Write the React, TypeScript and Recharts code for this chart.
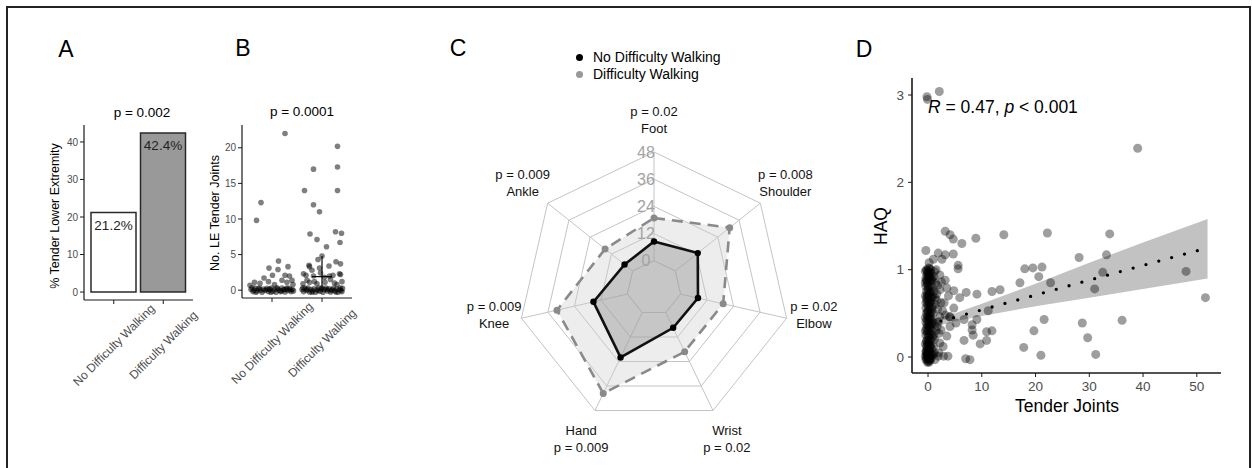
import React from 'react';
import {
  BarChart, Bar, Cell, LabelList, XAxis, YAxis, ComposedChart, Scatter, ReferenceLine,
  RadarChart, Radar, PolarGrid, PolarAngleAxis, PolarRadiusAxis, Area, Line,
} from 'recharts';

const FONT = '"Liberation Sans", Arial, Helvetica, sans-serif';
const AXIS_TEXT = '#4d4d4d';
const AXIS_LINE = '#1a1a1a';

// ---------------- Panel A ----------------
const walkingGroups = ['No Difficulty Walking', 'Difficulty Walking'];
const pctTenderLE = [21.2, 42.4];
const pctLabels = ['21.2%', '42.4%'];
const barFills = ['#ffffff', '#999999'];
const aYTicks = [0, 10, 20, 30, 40];

// ---------------- Panel B ----------------
const bGroupPos = [1, 2];
const bYTicks = [0, 5, 10, 15, 20];
const bNoDiff: number[][] = [
  [0.58, 0.1], [0.62, -0.2], [0.66, 0.3], [0.7, -0.1], [0.73, 0.2], [0.77, 0], [0.8, -0.3], [0.83, 0.15],
  [0.86, -0.05], [0.9, 0.25], [0.93, -0.2], [0.96, 0.05], [0.99, 0.3], [1.02, -0.15], [1.05, 0.1], [1.08, -0.3],
  [1.11, 0.2], [1.14, 0], [1.17, -0.2], [1.2, 0.3], [1.23, 0.05], [1.26, -0.25], [1.29, 0.15], [1.32, -0.05],
  [1.35, 0.25], [1.38, -0.2], [1.41, 0.1], [1.43, -0.1], [0.6, 0.35], [0.68, -0.3], [0.75, 0.25], [0.88, 0.05],
  [0.98, -0.3], [1.1, 0.35], [1.19, -0.1], [1.3, 0.3], [1.37, 0.05], [0.64, 0], [0.95, 0.15], [1.25, 0.1],
  [0.69, 9.8], [0.78, 12.3], [1.26, 22.0], [1.13, 4.1], [1.32, 3.3], [0.94, 3.1], [1.12, 2.9], [1.01, 2.1],
  [0.84, 1.7], [1.26, 2.1], [1.4, 1.4], [0.76, 0.95], [0.56, 0.7], [1.2, 1.4], [0.93, 1.2], [1.35, 2.0],
  [1.05, 0.8], [1.3, 1.1], [0.65, 1.1], [1.42, 0.8],
];
const bDiff: number[][] = [
  [1.6, 0.1], [1.63, -0.2], [1.66, 0.25], [1.69, -0.05], [1.72, 0.3], [1.75, -0.25], [1.78, 0.1], [1.81, -0.1],
  [1.84, 0.2], [1.87, -0.3], [1.9, 0.05], [1.93, 0.3], [1.96, -0.15], [1.99, 0.15], [2.02, -0.3], [2.05, 0.05],
  [2.08, 0.3], [2.11, -0.1], [2.14, 0.2], [2.17, -0.25], [2.2, 0.05], [2.23, 0.3], [2.26, -0.1], [2.29, 0.15],
  [2.32, -0.3], [2.35, 0.1], [2.38, -0.05], [2.41, 0.25], [1.62, 0.35], [1.7, 0.1], [1.8, -0.3], [1.92, -0.05],
  [2.0, 0.35], [2.1, 0.1], [2.19, -0.05], [2.28, -0.25], [2.37, 0.3], [2.4, -0.2],
  [1.62, 0.9], [1.75, 1.1], [1.9, 0.9], [2.06, 1.1], [2.17, 1.5], [1.7, 1.4], [2.3, 0.8], [2.4, 1.2], [1.85, 1.2], [2.25, 1.0],
  [1.63, 2.3], [1.83, 2.0], [2.15, 2.0], [2.35, 2.3], [2.37, 2.2], [1.68, 2.1], [1.97, 2.4], [2.05, 1.8], [2.22, 2.1],
  [1.75, 3.3], [1.74, 3.5], [2.14, 3.4], [1.8, 2.8], [1.95, 3.1],
  [1.65, 14.0], [1.83, 17.0], [1.83, 12.0], [1.95, 11.0], [1.76, 7.9], [1.9, 7.1], [2.09, 6.1], [2.0, 4.8],
  [1.92, 4.3], [2.31, 20.2], [2.31, 17.3], [2.31, 14.0], [2.27, 8.2], [2.39, 8.0], [2.36, 6.7], [2.28, 4.0], [2.37, 3.7],
];
const bSummaryX = [2];
const bSummaryLow = [0];
const bSummaryMid = [1.9];
const bSummaryHigh = [4.8];

// ---------------- Panel C ----------------
const jointAxes = ['Foot', 'Shoulder', 'Elbow', 'Wrist', 'Hand', 'Knee', 'Ankle'];
const jointP = ['p = 0.02', 'p = 0.008', 'p = 0.02', 'p = 0.02', 'p = 0.009', 'p = 0.009', 'p = 0.009'];
const noDiffPct = [8.5, 12.7, 7.9, 7.5, 22.0, 15.4, 4.6];
const diffPct = [18.9, 30.7, 19.3, 19.2, 39.6, 31.9, 15.6];
const radarBase = [0, 0, 0, 0, 0, 0, 0];
const radarTicks = [-12, 0, 12, 24, 36, 48];
const legendNames = ['No Difficulty Walking', 'Difficulty Walking'];

// ---------------- Panel D ----------------
const dTicksX = [0, 10, 20, 30, 40, 50];
const dTicksY = [0, 1, 2, 3];
const fitX = [0, 5, 10, 20, 30, 40, 52];
const fitY = [0.37, 0.455, 0.54, 0.71, 0.88, 1.05, 1.25];
const fitLow = [0.32, 0.41, 0.47, 0.58, 0.68, 0.78, 0.9];
const fitHigh = [0.42, 0.5, 0.61, 0.84, 1.08, 1.31, 1.58];
const dCluster: number[][] = [
  [-0.4, -0.03], [-0.2, 0.02], [0, -0.05], [0.2, 0.01], [0.4, -0.02], [0.6, 0.03], [-0.3, 0.04], [-0.1, -0.06],
  [0.1, 0.05], [0.3, -0.04], [0.5, 0.0], [-0.5, 0.01], [0.0, 0.03], [0.2, -0.06], [-0.2, -0.02], [0.4, 0.05],
  [-0.4, 0.06], [0.1, -0.03],
  [-0.3, 0.12], [0, 0.14], [0.3, 0.11], [0.5, 0.13], [-0.1, 0.1], [0.2, 0.15],
  [-0.4, 0.25], [-0.1, 0.27], [0.2, 0.24], [0.5, 0.26], [0, 0.22], [0.3, 0.28],
  [-0.2, 0.37], [0.1, 0.39], [0.4, 0.36], [-0.4, 0.4], [0, 0.35], [0.6, 0.38],
  [-0.3, 0.5], [0, 0.52], [0.3, 0.48], [0.6, 0.51], [-0.1, 0.47], [0.2, 0.54],
  [-0.4, 0.62], [-0.1, 0.64], [0.2, 0.61], [0.5, 0.63], [0.1, 0.66],
  [-0.3, 0.75], [0, 0.77], [0.3, 0.73], [0.6, 0.76], [-0.1, 0.72],
  [-0.2, 0.87], [0.1, 0.89], [0.4, 0.86], [0.6, 0.88], [-0.4, 0.9],
  [-0.3, 1.0], [0, 0.98], [0.3, 1.01], [-0.1, 0.96], [0.2, 0.95], [0.5, 1.0], [0.2, 1.08],
  [-0.3, 0.06], [0.3, 0.08], [0.1, 0.18], [-0.2, 0.19], [0.4, 0.2], [-0.5, 0.3], [0.1, 0.31], [0.5, 0.33],
  [-0.2, 0.43], [0.3, 0.42], [0.0, 0.44], [-0.4, 0.56], [0.1, 0.57], [0.4, 0.58], [-0.2, 0.69], [0.2, 0.7],
  [0.5, 0.68], [-0.4, 0.81], [0.0, 0.82], [0.3, 0.8], [-0.2, 0.93], [0.2, 0.92], [0.4, 0.97], [-0.5, 0.98],
  [0.7, 0.1], [0.8, 0.3], [0.7, 0.55], [0.8, 0.8], [0.6, 0.95], [-0.3, 0.18], [0.0, 0.08], [0.2, 0.35],
  [-0.1, 0.6], [0.3, 0.63], [0.0, 0.7], [-0.3, 0.88], [0.1, 0.93], [0.3, 0.9], [-0.2, 0.3], [0.5, 0.45],
  [0.1, -0.01], [-0.1, 0.02], [0.3, 0.02], [-0.3, -0.01], [0.5, -0.03], [0.0, 0.0], [0.2, 0.06], [-0.2, 0.08],
  [-0.5, 0.15], [0.6, 0.2], [-0.5, 0.45], [0.7, 0.42], [-0.5, 0.7], [0.7, 0.68], [-0.5, 0.85], [0.7, 0.9],
  [-0.1, 0.15], [0.4, 0.12], [-0.3, 0.33], [0.2, 0.45], [-0.1, 0.52], [0.4, 0.5], [-0.3, 0.66], [0.1, 0.78],
  [-0.1, 0.84], [0.4, 0.74], [-0.2, 0.99], [0.1, 1.02], [0.8, 0.02], [0.8, 0.58], [0.9, 0.22], [0.9, 0.7],
];
const dLow: number[][] = [
  [2.2, 0.94], [3.2, 0.88], [2.2, 0.77], [3.5, 0.79], [1.6, 0.65], [2.4, 0.62], [1.0, 0.5], [2.2, 0.46],
  [3.2, 0.48], [4.1, 0.46], [1.7, 0.35], [2.4, 0.31], [1.2, 0.2], [2.2, 0.16], [1.2, 0.05], [1.9, 0.01],
  [0.9, 0.88], [1.1, 0.75], [1.0, 0.25], [1.4, 0.6], [3.0, 0.62], [2.8, 0.12], [1.5, 1.0], [1.0, 1.12],
  [2.6, 1.12], [3.8, 0.7], [0.9, 0.4], [1.3, -0.03], [1.1, 0.92], [1.8, 0.82], [1.3, 0.38], [2.0, 0.27],
  [1.0, 0.12], [1.6, 0.72], [2.7, 0.53], [1.2, 0.98], [1.4, 0.85], [1.8, 0.55], [1.5, 0.3], [2.0, 0.05],
  [1.3, 0.68], [1.9, 0.4], [2.5, 0.86], [1.1, 0.03],
];
const dSpread: number[][] = [
  [3.2, 1.44], [4.1, 1.4], [4.7, 1.35], [6.3, 1.3], [8.9, 1.36], [14.1, 1.4], [22.2, 1.42], [33.8, 1.41],
  [-0.4, 1.22], [1.9, 1.19], [3.2, 1.17], [4.7, 1.18], [5.6, 1.05], [5.6, 1.01],
  [28.1, 1.14], [33.2, 1.17], [18.0, 1.01], [19.5, 1.02], [21.2, 1.03], [20.6, 0.92], [17.1, 0.85], [22.8, 0.85],
  [32.5, 0.97], [31.0, 0.78], [48.0, 0.98], [51.6, 0.68],
  [4.8, 0.76], [5.9, 0.68], [7.1, 0.74], [9.1, 0.72], [11.9, 0.75], [13.4, 0.77],
  [6.7, 0.43], [9.1, 0.43], [8.2, 0.37], [8.2, 0.31], [8.4, 0.25], [11.2, 0.53], [10.9, 0.29], [11.9, 0.3],
  [10.9, 0.19], [9.7, 0.15], [6.7, 0.19], [3.5, 0.24], [4.1, 0.35], [3.7, 0.01], [2.9, 0.01], [7.0, -0.02], [7.8, -0.03],
  [21.6, 0.43], [19.7, 0.3], [17.8, 0.11], [21.0, 0.02], [28.7, 0.39], [29.7, 0.22], [31.2, 0.03], [36.1, 0.42],
  [4.8, 0.56], [4.0, 0.46], [5.2, 0.39],
  [-0.2, 2.98], [-0.1, 2.95], [2.1, 3.04], [39.0, 2.39],
];

// ---------------- helpers ----------------
const toPts = (arr: number[][]) => arr.map(([x, y]) => ({ x, y }));

const Txt = ({ x, y, size, rotate = 0, anchor = 'middle', color = '#000', children }: any) => {
  const tx = anchor === 'middle' ? '-50%' : anchor === 'start' ? '0%' : '-100%';
  return (
    <div
      style={{
        position: 'absolute', left: x, top: y,
        transform: `translate(${tx}, -50%) rotate(${rotate}deg)`,
        transformOrigin: anchor === 'start' ? '0 50%' : '50% 50%',
        fontSize: size, lineHeight: 1, whiteSpace: 'nowrap', color, fontFamily: FONT,
      }}
    >
      {children}
    </div>
  );
};

const makeCatTick = (names: string[]) => (props: any) => {
  const { x, y, payload } = props;
  const v = payload.value;
  const label = typeof v === 'number' ? names[v - 1] : v;
  return (
    <text
      x={0} y={0}
      transform={`translate(${x},${y + 39}) rotate(-45)`}
      textAnchor="middle" dy="0.35em" fontSize={12} fill={AXIS_TEXT} fontFamily={FONT}
    >
      {label}
    </text>
  );
};

const yTickStyle = { fontSize: 10, fill: AXIS_TEXT, fontFamily: FONT };

const bDot = (p: any) => <circle cx={p.cx} cy={p.cy} r={2.8} fill="#000" fillOpacity={0.5} />;
const dDot = (p: any) => <circle cx={p.cx} cy={p.cy} r={4.5} fill="#000" fillOpacity={0.38} />;

const RADAR_CX = 234;
const RADAR_CY = 288;
const RADAR_R = 136;

const renderJointLabel = (props: any) => {
  const { payload } = props;
  const i = jointAxes.indexOf(payload.value);
  const a = (payload.coordinate * Math.PI) / 180;
  const side = Math.abs(Math.sin(a)) < 0.3;
  const r = side ? 164 : 168;
  const lx = RADAR_CX + r * Math.cos(a);
  const ly = RADAR_CY - r * Math.sin(a) + (side ? -10 : 0);
  const lower = Math.sin(a) < -0.5;
  const lines = lower ? [jointAxes[i], jointP[i]] : [jointP[i], jointAxes[i]];
  return (
    <text textAnchor="middle" fontSize={13} fill="#111" fontFamily={FONT}>
      <tspan x={lx} y={ly - 8.5} dy="0.35em">{lines[0]}</tspan>
      <tspan x={lx} y={ly + 8.5} dy="0.35em">{lines[1]}</tspan>
    </text>
  );
};

const renderRadiusTick = (props: any) => {
  const { x, y, payload } = props;
  if (payload.value < 0) return <g />;
  return (
    <text x={x - 8} y={y} dy="0.35em" textAnchor="middle" fontSize={16} fill="#a3a3a3" fontFamily={FONT}>
      {payload.value}
    </text>
  );
};

export default function App() {
  const aData = walkingGroups.map((g, i) => ({ group: g, pct: pctTenderLE[i], label: pctLabels[i], fill: barFills[i] }));
  const radarData = jointAxes.map((axis, i) => ({ axis, noDiff: noDiffPct[i], diff: diffPct[i], base: radarBase[i] }));
  const dRibbon = fitX.map((x, i) => ({ x, fit: fitY[i], band: [fitLow[i], fitHigh[i]] }));
  const dAll = toPts([...dCluster, ...dLow, ...dSpread]);

  return (
    <div style={{ position: 'absolute', left: 0, top: 0, width: 1252, height: 468, background: '#fff', overflow: 'hidden', fontFamily: FONT }}>
      {/* frame */}
      <div style={{ position: 'absolute', left: 6, top: 6, width: 1245, height: 470, boxSizing: 'border-box', borderLeft: '2px solid #222', borderTop: '2px solid #222', borderRight: '2px solid #222' }} />

      {/* Panel A */}
      <div style={{ position: 'absolute', left: 0, top: 0 }}>
        <BarChart width={200} height={468} data={aData} margin={{ top: 125, right: 7, bottom: 138, left: 54 }}>
          <XAxis
            dataKey="group" type="category" interval={0} padding={{ left: 5, right: 5 }} height={30}
            axisLine={{ stroke: AXIS_LINE, strokeWidth: 1.2 }} tickLine={{ stroke: AXIS_LINE }} tickSize={4} tickMargin={2}
            tick={makeCatTick(walkingGroups)}
          />
          <YAxis
            type="number" domain={[-2.12, 44.52]} ticks={aYTicks} allowDataOverflow width={30}
            axisLine={{ stroke: AXIS_LINE, strokeWidth: 1.2 }} tickLine={{ stroke: AXIS_LINE }} tickSize={4} tickMargin={2}
            tick={yTickStyle}
          />
          <Bar dataKey="pct" barSize={45} stroke="#2a2a2a" strokeWidth={1.5} isAnimationActive={false}>
            {aData.map((d, i) => <Cell key={i} fill={d.fill} />)}
            <LabelList
              dataKey="label"
              content={(p: any) => (
                <text x={p.x + p.width / 2} y={p.y + 17} textAnchor="middle" fontSize={13.5} fill="#222" fontFamily={FONT}>
                  {p.value}
                </text>
              )}
            />
          </Bar>
        </BarChart>
      </div>

      {/* Panel B */}
      <div style={{ position: 'absolute', left: 200, top: 0 }}>
        <ComposedChart width={170} height={468} margin={{ top: 125, right: 18, bottom: 140, left: 12 }}>
          <XAxis
            type="number" dataKey="x" domain={[0.4, 2.6]} ticks={bGroupPos} allowDataOverflow interval={0} height={30}
            axisLine={{ stroke: AXIS_LINE, strokeWidth: 1.2 }} tickLine={{ stroke: AXIS_LINE }} tickSize={4} tickMargin={2}
            tick={makeCatTick(walkingGroups)}
          />
          <YAxis
            type="number" domain={[-1.1, 23.2]} ticks={bYTicks} allowDataOverflow width={30}
            axisLine={{ stroke: AXIS_LINE, strokeWidth: 1.2 }} tickLine={{ stroke: AXIS_LINE }} tickSize={4} tickMargin={2}
            tick={yTickStyle}
          />
          <Scatter data={toPts(bNoDiff)} dataKey="y" shape={bDot} isAnimationActive={false} />
          <Scatter data={toPts(bDiff)} dataKey="y" shape={bDot} isAnimationActive={false} />
          <ReferenceLine
            segment={[{ x: bSummaryX[0], y: bSummaryLow[0] }, { x: bSummaryX[0], y: bSummaryHigh[0] }]}
            stroke="#000" strokeWidth={1.2}
          />
          <ReferenceLine
            segment={[{ x: bSummaryX[0] - 0.2, y: bSummaryMid[0] }, { x: bSummaryX[0] + 0.2, y: bSummaryMid[0] }]}
            stroke="#000" strokeWidth={1.2}
          />
        </ComposedChart>
      </div>

      {/* Panel C */}
      <div style={{ position: 'absolute', left: 420, top: 0 }}>
        <RadarChart width={480} height={468} data={radarData} cx={RADAR_CX} cy={RADAR_CY} outerRadius={RADAR_R} margin={{ top: 0, right: 0, bottom: 0, left: 0 }}>
          <PolarGrid stroke="#c4c4c4" strokeWidth={1} />
          <PolarAngleAxis dataKey="axis" axisLine={false} tickLine={false} tick={renderJointLabel} />
          <Radar dataKey="base" stroke="#c4c4c4" strokeWidth={1} fill="#ffffff" fillOpacity={1} isAnimationActive={false} />
          <Radar
            dataKey="diff" stroke="#8a8a8a" strokeWidth={2.6} strokeDasharray="11 7" fill="#cccccc" fillOpacity={0.35}
            dot={{ r: 3.5, fill: '#8a8a8a', stroke: 'none', fillOpacity: 1 }} isAnimationActive={false}
          />
          <Radar
            dataKey="noDiff" stroke="#111111" strokeWidth={2.6} fill="#8c8c8c" fillOpacity={0.4}
            dot={{ r: 3.2, fill: '#000', stroke: 'none', fillOpacity: 1 }} isAnimationActive={false}
          />
          <PolarRadiusAxis
            angle={90} type="number" domain={[-12, 48]} ticks={radarTicks as any} tickCount={6} allowDataOverflow
            axisLine={false} tickLine={false} tick={renderRadiusTick}
          />
        </RadarChart>
      </div>

      {/* Panel D */}
      <div style={{ position: 'absolute', left: 850, top: 0 }}>
        <ComposedChart width={402} height={468} data={dRibbon} margin={{ top: 78, right: 31, bottom: 65, left: 32 }}>
          <XAxis
            type="number" dataKey="x" domain={[-2.98, 54.5]} ticks={dTicksX} allowDataOverflow interval={0} height={30}
            axisLine={{ stroke: AXIS_LINE, strokeWidth: 1.6 }} tickLine={{ stroke: AXIS_LINE }} tickSize={4} tickMargin={4}
            tick={{ fontSize: 13.5, fill: AXIS_TEXT, fontFamily: FONT }}
          />
          <YAxis
            type="number" domain={[-0.183, 3.195]} ticks={dTicksY} allowDataOverflow width={30}
            axisLine={{ stroke: AXIS_LINE, strokeWidth: 1.6 }} tickLine={{ stroke: AXIS_LINE }} tickSize={4} tickMargin={4}
            tick={{ fontSize: 13.5, fill: AXIS_TEXT, fontFamily: FONT }}
          />
          <Area dataKey="band" type="linear" stroke="none" fill="#c2c2c2" fillOpacity={1} isAnimationActive={false} />
          <Scatter data={dAll} dataKey="y" shape={dDot} isAnimationActive={false} />
          <Line
            dataKey="fit" type="linear" stroke="#000" strokeWidth={3.3} strokeDasharray="0 13.3" strokeLinecap="round"
            dot={false} activeDot={false} isAnimationActive={false}
          />
        </ComposedChart>
      </div>

      {/* Text overlays */}
      <Txt x={66} y={49} size={23}>A</Txt>
      <Txt x={243} y={48} size={23}>B</Txt>
      <Txt x={458} y={48} size={23}>C</Txt>
      <Txt x={864} y={49} size={23}>D</Txt>

      <Txt x={142} y={113} size={13.5}>p = 0.002</Txt>
      <Txt x={302} y={112} size={13.5}>p = 0.0001</Txt>
      <Txt x={55} y={216} size={12.5} rotate={-90}>% Tender Lower Extremity</Txt>
      <Txt x={215} y={213} size={12.5} rotate={-90}>No. LE Tender Joints</Txt>

      {/* Legend C */}
      <div style={{ position: 'absolute', left: 575.5, top: 53.5, width: 7, height: 7, borderRadius: '50%', background: '#000' }} />
      <div style={{ position: 'absolute', left: 575.5, top: 70.5, width: 7, height: 7, borderRadius: '50%', background: '#999' }} />
      <Txt x={593} y={57} size={14} anchor="start">{legendNames[0]}</Txt>
      <Txt x={593} y={74} size={14} anchor="start">{legendNames[1]}</Txt>

      {/* D texts */}
      <Txt x={928} y={108} size={17.5} anchor="start">
        <i>R</i> = 0.47, <i>p</i> &lt; 0.001
      </Txt>
      <Txt x={882} y={226} size={17.5} rotate={-90}>HAQ</Txt>
      <Txt x={1067} y={407} size={17.5}>Tender Joints</Txt>
    </div>
  );
}
